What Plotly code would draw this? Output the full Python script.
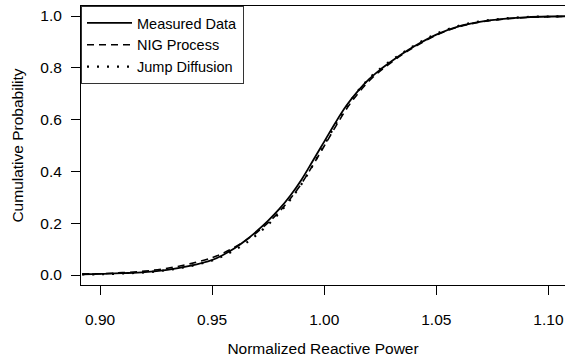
import plotly.graph_objects as go

x_vals = [0.892, 0.90, 0.91, 0.92, 0.93, 0.94, 0.95, 0.955, 0.96, 0.965, 0.97, 0.975, 0.98, 0.985,
          0.99, 0.995, 1.00, 1.005, 1.01, 1.015, 1.02, 1.025, 1.03, 1.035, 1.04, 1.05, 1.06,
          1.07, 1.08, 1.09, 1.10, 1.108]
measured = [0.003, 0.004, 0.007, 0.011, 0.020, 0.035, 0.058, 0.078, 0.103, 0.134, 0.170, 0.210,
            0.255, 0.308, 0.370, 0.442, 0.515, 0.588, 0.655, 0.710, 0.756, 0.793, 0.825, 0.855,
            0.882, 0.928, 0.960, 0.978, 0.989, 0.995, 0.998, 0.999]
nig = [0.004, 0.005, 0.009, 0.015, 0.026, 0.043, 0.067, 0.085, 0.107, 0.134, 0.165, 0.202,
       0.245, 0.296, 0.355, 0.425, 0.498, 0.572, 0.642, 0.700, 0.749, 0.788, 0.821, 0.852,
       0.879, 0.926, 0.958, 0.977, 0.988, 0.994, 0.997, 0.998]
jump = [0.002, 0.003, 0.006, 0.010, 0.019, 0.034, 0.056, 0.074, 0.096, 0.123, 0.156, 0.195,
        0.240, 0.292, 0.353, 0.425, 0.502, 0.580, 0.650, 0.710, 0.759, 0.797, 0.829, 0.858,
        0.885, 0.931, 0.962, 0.980, 0.990, 0.996, 0.998, 0.999]

x_ticks = [0.90, 0.95, 1.00, 1.05, 1.10]
y_ticks = [0.0, 0.2, 0.4, 0.6, 0.8, 1.0]

FONT = "Liberation Sans, Arial, Helvetica, sans-serif"
fs = 15.5

fig = go.Figure()
fig.add_trace(go.Scatter(x=x_vals, y=measured, mode="lines", name="Measured Data",
                         line=dict(color="black", width=1.8, shape="spline", smoothing=1.0)))
fig.add_trace(go.Scatter(x=x_vals, y=nig, mode="lines", name="NIG Process",
                         line=dict(color="black", width=1.6, dash="7px,5px", shape="spline", smoothing=1.0)))
fig.add_trace(go.Scatter(x=x_vals, y=jump, mode="lines", name="Jump Diffusion",
                         line=dict(color="black", width=2.2, dash="2px,8px", shape="spline", smoothing=1.0)))

fig.update_layout(
    width=565, height=364,
    margin=dict(l=81, r=0, t=6, b=79),
    paper_bgcolor="white", plot_bgcolor="white",
    font=dict(family=FONT, size=fs, color="black"),
    showlegend=True,
    legend=dict(x=0, y=1, xanchor="left", yanchor="top",
                bordercolor="#333333", borderwidth=1, bgcolor="white",
                font=dict(family=FONT, size=14.5), tracegroupgap=0,
                itemwidth=45),
    xaxis=dict(range=[0.8915, 1.1074], tickvals=x_ticks, tickformat=".2f",
               showgrid=False, zeroline=False, showline=True, linecolor="black",
               linewidth=1, mirror=True, ticks="outside", ticklen=9, tickwidth=1,
               tickcolor="black", ticklabelstandoff=11,
               title=dict(text="Normalized Reactive Power", standoff=16,
                          font=dict(family=FONT, size=fs))),
    yaxis=dict(range=[-0.0386, 1.0386], tickvals=y_ticks, tickformat=".1f",
               showgrid=False, zeroline=False, showline=True, linecolor="black",
               linewidth=1, mirror=True, ticks="outside", ticklen=9, tickwidth=1,
               tickcolor="black", ticklabelstandoff=6,
               title=dict(text="Cumulative Probability", standoff=12,
                          font=dict(family=FONT, size=fs))),
)

fig.write_html("out.html")
